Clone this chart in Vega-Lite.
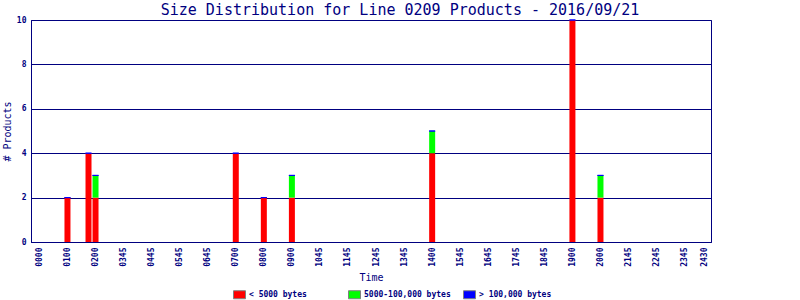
{
  "$schema": "https://vega.github.io/schema/vega-lite/v6.json",
  "width": 680,
  "height": 222,
  "autosize": "none",
  "padding": {"left": 31, "top": 20, "right": 89, "bottom": 58},
  "background": "white",
  "title": {
    "text": "Size Distribution for Line 0209 Products - 2016/09/21",
    "font": "DejaVu Sans Mono",
    "fontSize": 15,
    "fontWeight": "normal",
    "color": "#000080",
    "anchor": "middle",
    "dx": 29,
    "offset": -2
  },
  "data": {
    "values": [
      {"time": 1, "cls": "< 5000 bytes", "k": 1, "n": 2},
      {"time": 1, "cls": "> 100,000 bytes", "k": 3, "n": 0},
      {"time": 1.75, "cls": "< 5000 bytes", "k": 1, "n": 4},
      {"time": 1.75, "cls": "> 100,000 bytes", "k": 3, "n": 0},
      {"time": 2, "cls": "< 5000 bytes", "k": 1, "n": 2},
      {"time": 2, "cls": "5000-100,000 bytes", "k": 2, "n": 1},
      {"time": 2, "cls": "> 100,000 bytes", "k": 3, "n": 0},
      {"time": 7, "cls": "< 5000 bytes", "k": 1, "n": 4},
      {"time": 7, "cls": "> 100,000 bytes", "k": 3, "n": 0},
      {"time": 8, "cls": "< 5000 bytes", "k": 1, "n": 2},
      {"time": 8, "cls": "> 100,000 bytes", "k": 3, "n": 0},
      {"time": 9, "cls": "< 5000 bytes", "k": 1, "n": 2},
      {"time": 9, "cls": "5000-100,000 bytes", "k": 2, "n": 1},
      {"time": 9, "cls": "> 100,000 bytes", "k": 3, "n": 0},
      {"time": 14, "cls": "< 5000 bytes", "k": 1, "n": 4},
      {"time": 14, "cls": "5000-100,000 bytes", "k": 2, "n": 1},
      {"time": 14, "cls": "> 100,000 bytes", "k": 3, "n": 0},
      {"time": 19, "cls": "< 5000 bytes", "k": 1, "n": 10},
      {"time": 19, "cls": "> 100,000 bytes", "k": 3, "n": 0},
      {"time": 20, "cls": "< 5000 bytes", "k": 1, "n": 2},
      {"time": 20, "cls": "5000-100,000 bytes", "k": 2, "n": 1},
      {"time": 20, "cls": "> 100,000 bytes", "k": 3, "n": 0}
    ]
  },
  "mark": {"type": "bar", "size": 6, "stroke": "#0000FF", "clip": false},
  "encoding": {
    "x": {
      "field": "time",
      "type": "quantitative",
      "scale": {"domain": [-0.3, 23.94], "nice": false, "zero": false, "padding": 0},
      "axis": {
        "title": "Time",
        "values": [0,1,2,3,4,5,6,7,8,9,10,11,12,13,14,15,16,17,18,19,20,21,22,23,23.7],
        "labelExpr": "['0000','0100','0200','0345','0445','0545','0645','0700','0800','0900','1045','1145','1245','1345','1400','1545','1645','1745','1845','1900','2000','2145','2245','2345','2430'][indexof([0,1,2,3,4,5,6,7,8,9,10,11,12,13,14,15,16,17,18,19,20,21,22,23,23.7], datum.value)]",
        "labelAngle": 270,
        "labelPadding": 5,
        "labelOverlap": false,
        "labelFlush": false,
        "ticks": false,
        "grid": false,
        "titlePadding": 6
      }
    },
    "y": {
      "field": "n",
      "type": "quantitative",
      "stack": "zero",
      "scale": {"domain": [0, 10], "nice": false},
      "axis": {
        "title": "# Products",
        "values": [0, 2, 4, 6, 8, 10],
        "ticks": false,
        "grid": true,
        "labelPadding": 5,
        "titlePadding": 4
      }
    },
    "color": {
      "field": "cls",
      "type": "nominal",
      "scale": {
        "domain": ["< 5000 bytes", "5000-100,000 bytes", "> 100,000 bytes"],
        "range": ["#FF0000", "#00FF00", "#0000FF"]
      },
      "legend": {
        "title": null,
        "orient": "none",
        "direction": "horizontal",
        "legendX": 202,
        "legendY": 268,
        "symbolType": "M-1,-0.667L1,-0.667L1,0.667L-1,0.667Z",
        "symbolSize": 144,
        "symbolStrokeColor": "#808080",
        "symbolStrokeWidth": 1,
        "symbolOpacity": 1,
        "gridAlign": "all",
        "columnPadding": 10,
        "labelOffset": 3
      }
    },
    "strokeWidth": {
      "condition": {"test": "datum.k == 3", "value": 1},
      "value": 0
    },
    "order": {"field": "k", "type": "quantitative"}
  },
  "config": {
    "view": {"stroke": "#000080", "strokeWidth": 1},
    "axis": {
      "domainColor": "#000080",
      "gridColor": "#000080",
      "gridOpacity": 1,
      "gridWidth": 1,
      "labelColor": "#000080",
      "labelFont": "DejaVu Sans Mono",
      "labelFontSize": 8,
      "labelFontWeight": "bold",
      "titleColor": "#000080",
      "titleFont": "DejaVu Sans Mono",
      "titleFontSize": 10,
      "titleFontWeight": "normal"
    },
    "legend": {
      "labelColor": "#000080",
      "labelFont": "DejaVu Sans Mono",
      "labelFontSize": 8,
      "labelFontWeight": "bold"
    }
  }
}
